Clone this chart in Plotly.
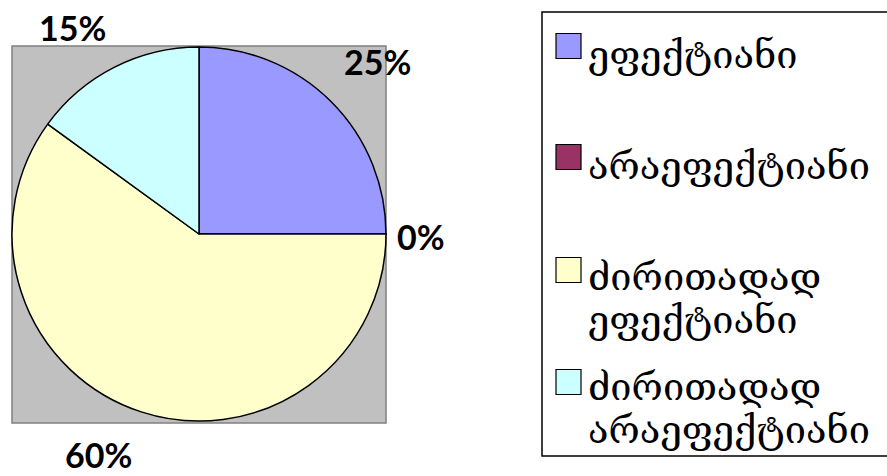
import plotly.graph_objects as go

# Survey answers and their shares (percent)
categories = ["ეფექტიანი", "არაეფექტიანი", "ძირითადად ეფექტიანი", "ძირითადად არაეფექტიანი"]
values = [25, 0, 60, 15]
colors = ["#9999FF", "#993366", "#FFFFCC", "#CCFFFF"]

W, H = 887, 476


def px(x):
    return x / W


def py(y):
    return 1 - y / H


fig = go.Figure()

fig.add_trace(go.Pie(
    labels=categories,
    values=values,
    sort=False,
    direction="clockwise",
    rotation=0,
    marker=dict(colors=colors, line=dict(color="black", width=1.5)),
    textinfo="none",
    hoverinfo="label+percent",
    showlegend=False,
    domain=dict(x=[px(12), px(386)], y=[py(421), py(47)]),
))

shapes = []
annotations = []

# grey plot area behind the pie
shapes.append(dict(type="rect", xref="paper", yref="paper", layer="below",
                   x0=px(12), x1=px(386), y0=py(423), y1=py(46),
                   fillcolor="#C0C0C0", line=dict(color="#808080", width=1.5)))

# percentage labels around the pie
label_pos = [(377, 62), (421, 236), (98, 454), (72, 27)]
for v, (lx, ly) in zip(values, label_pos):
    annotations.append(dict(xref="paper", yref="paper", x=px(lx), y=py(ly),
                            text=f"{v}%", showarrow=False,
                            xanchor="center", yanchor="middle",
                            font=dict(family="Lato", size=34, color="black", weight="bold")))

# legend frame
shapes.append(dict(type="rect", xref="paper", yref="paper",
                   x0=px(542), x1=px(895), y0=py(456), y1=py(12),
                   fillcolor="white", line=dict(color="black", width=1.5), layer="below"))

# legend entries: swatch plus one or two text lines
swatch_y = [46, 157, 270, 382]
line_y = [55, 166, 277, 387]
line_gap = 43
for cat, col, sy, ty in zip(categories, colors, swatch_y, line_y):
    shapes.append(dict(type="rect", xref="paper", yref="paper",
                       x0=px(556), x1=px(581), y0=py(sy + 12.5), y1=py(sy - 12.5),
                       fillcolor=col, line=dict(color="black", width=1.2)))
    for i, word in enumerate(cat.split(" ")):
        annotations.append(dict(xref="paper", yref="paper", x=px(586), y=py(ty + i * line_gap),
                                text=word, showarrow=False,
                                xanchor="left", yanchor="middle", align="left",
                                font=dict(family="DejaVu Serif", size=38, color="black")))

fig.update_layout(
    width=W, height=H,
    margin=dict(l=0, r=0, t=0, b=0),
    paper_bgcolor="white",
    plot_bgcolor="white",
    shapes=shapes,
    annotations=annotations,
)

fig.write_html("out.html")
